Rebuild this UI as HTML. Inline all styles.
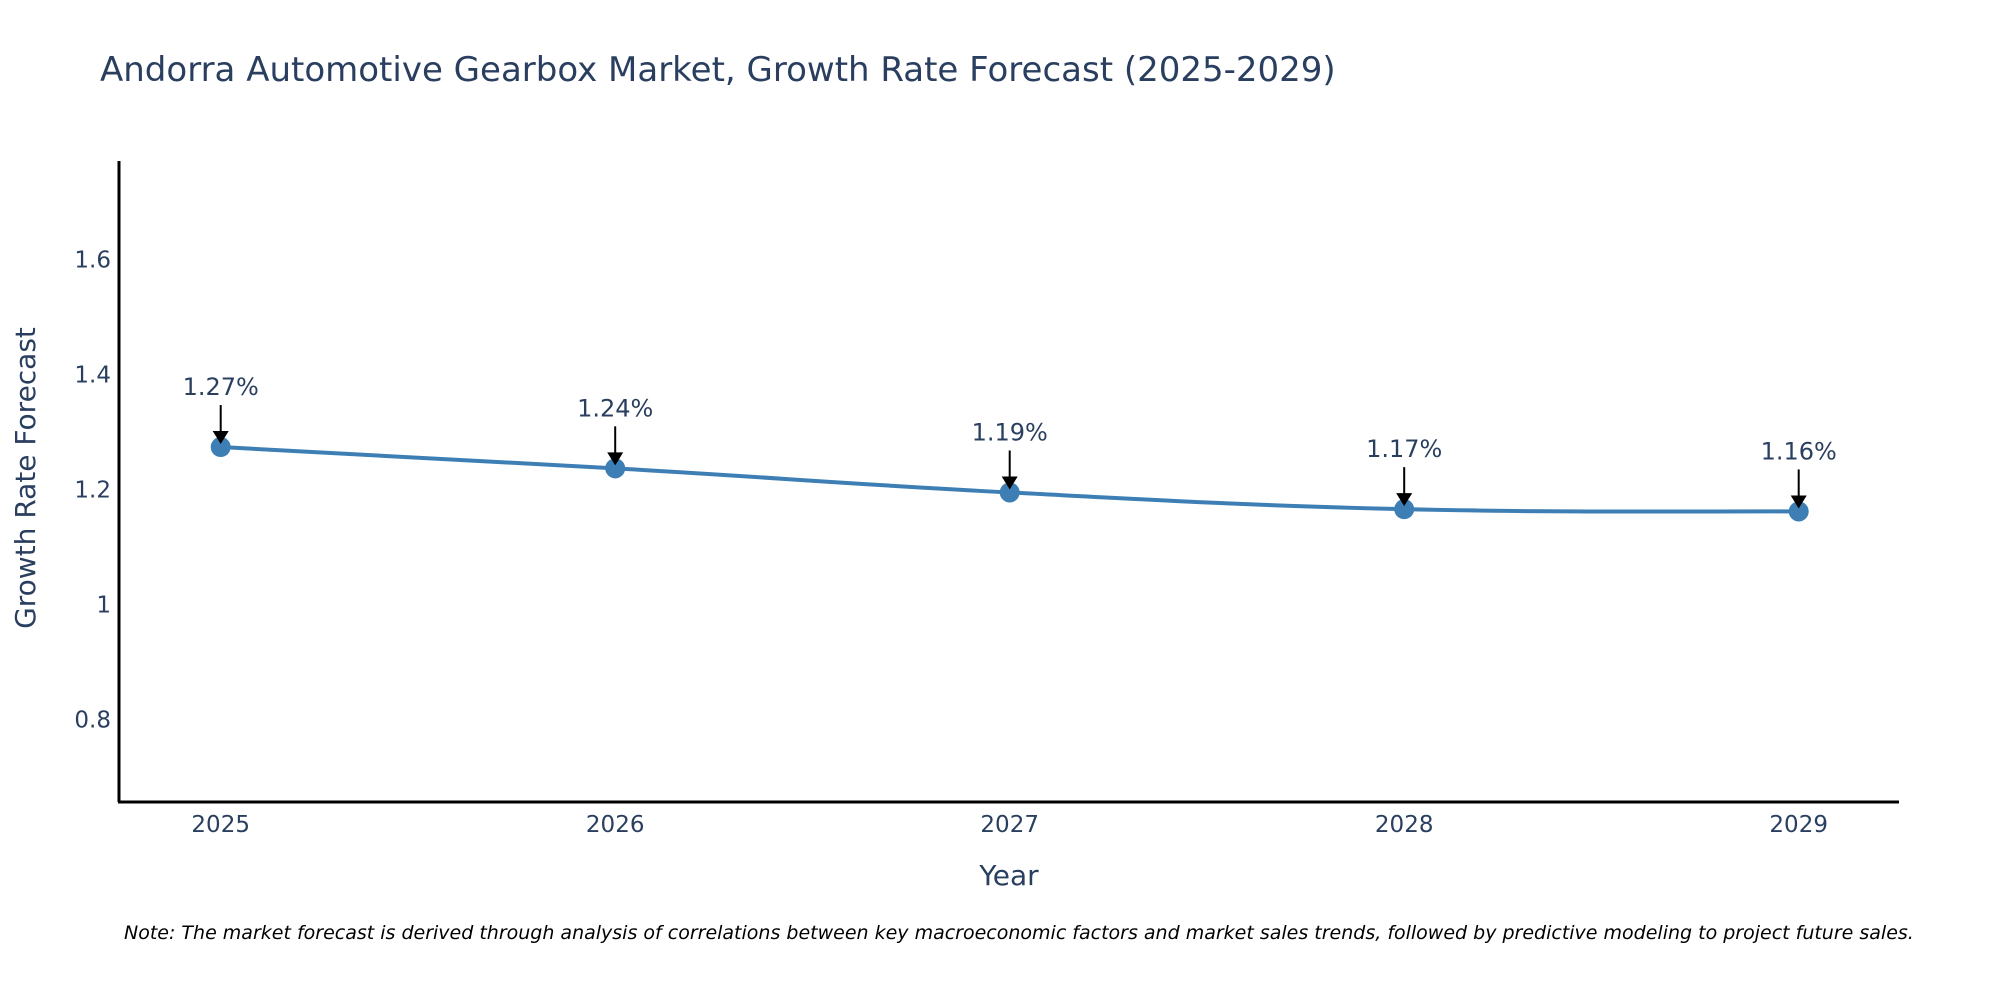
<!DOCTYPE html>
<html><head><meta charset="utf-8"><style>
body{margin:0;background:#fff;}
svg{display:block;font-family:"DejaVu Sans","Liberation Sans",sans-serif;}
</style></head><body>
<svg id="chart" width="2000" height="1000" viewBox="0 0 2000 1000" xmlns="http://www.w3.org/2000/svg">
<text x="100" y="81" font-size="34" fill="#2a3f5f">Andorra Automotive Gearbox Market, Growth Rate Forecast (2025-2029)</text>
<g id="yticks"></g>
<g id="xticks"></g>
<line x1="119" y1="161" x2="119" y2="802" stroke="#000" stroke-width="3"/>
<line x1="118" y1="802" x2="1899" y2="802" stroke="#000" stroke-width="3"/>
<g id="series"></g>
<g id="annots"></g>
<text x="1009" y="885" font-size="28" fill="#2a3f5f" text-anchor="middle">Year</text>
<text transform="translate(35,478) rotate(-90)" font-size="28" fill="#2a3f5f" text-anchor="middle">Growth Rate Forecast</text>
<text x="124" y="939" font-size="19" font-style="italic" fill="#000">Note: The market forecast is derived through analysis of correlations between key macroeconomic factors and market sales trends, followed by predictive modeling to project future sales.</text>
</svg>
<script>
const years = [2025, 2026, 2027, 2028, 2029];
const values = [1.274, 1.237, 1.195, 1.166, 1.162];
const labels = ["1.27%", "1.24%", "1.19%", "1.17%", "1.16%"];
const yTickVals = [0.8, 1, 1.2, 1.4, 1.6];
const yTickLabels = ["0.8", "1", "1.2", "1.4", "1.6"];

const NS = "http://www.w3.org/2000/svg";
const X0 = 220.7, XSTEP = 394.5;
function xs(yr){ return X0 + (yr - years[0]) * XSTEP; }
function ys(v){ return 604.6 - (v - 1) * 575; }
function mk(tag, attrs, parent){ const e=document.createElementNS(NS,tag); for(const k in attrs) e.setAttribute(k,attrs[k]); parent.appendChild(e); return e; }

const yt = document.getElementById('yticks');
yTickVals.forEach((v,i)=>{
  const t = mk('text',{x:111,y:ys(v)+8,'font-size':23,fill:'#2a3f5f','text-anchor':'end'},yt);
  
  
  t.textContent = yTickLabels[i];
});
const xt = document.getElementById('xticks');
years.forEach(yr=>{
  const t = mk('text',{x:xs(yr),y:832,'font-size':23,fill:'#2a3f5f','text-anchor':'middle'},xt);
  
  
  t.textContent = yr;
});

const pts = years.map((yr,i)=>[xs(yr), ys(values[i])]);
let d = `M${pts[0][0]},${pts[0][1]}`;
const s = 0.2;
for(let i=0;i<pts.length-1;i++){
  const p0=pts[Math.max(0,i-1)], p1=pts[i], p2=pts[i+1], p3=pts[Math.min(pts.length-1,i+2)];
  const c1=[p1[0]+(p2[0]-p0[0])*s, p1[1]+(p2[1]-p0[1])*s];
  const c2=[p2[0]-(p3[0]-p1[0])*s, p2[1]-(p3[1]-p1[1])*s];
  d += ` C${c1[0]},${c1[1]} ${c2[0]},${c2[1]} ${p2[0]},${p2[1]}`;
}
const ser = document.getElementById('series');
const line = mk('path',{d:d,fill:'none',stroke:'#3d7fb4','stroke-width':4},ser);


pts.forEach(p=>{
  const c = mk('circle',{cx:p[0],cy:p[1],r:10,fill:'#3d7fb4'},ser);
  
  
});

const an = document.getElementById('annots');
pts.forEach((p,i)=>{
  const l = mk('line',{x1:p[0],y1:p[1]-42,x2:p[0],y2:p[1]-14,stroke:'#000','stroke-width':2},an);
  
  
  const h = mk('polygon',{points:`${p[0]-8},${p[1]-16} ${p[0]+8},${p[1]-16} ${p[0]},${p[1]-3}`,fill:'#000'},an);
  
  
  const t = mk('text',{x:p[0],y:p[1]-52,'font-size':24,fill:'#2a3f5f','text-anchor':'middle'},an);
  
  
  t.textContent = labels[i];
});
</script>
</body></html>
